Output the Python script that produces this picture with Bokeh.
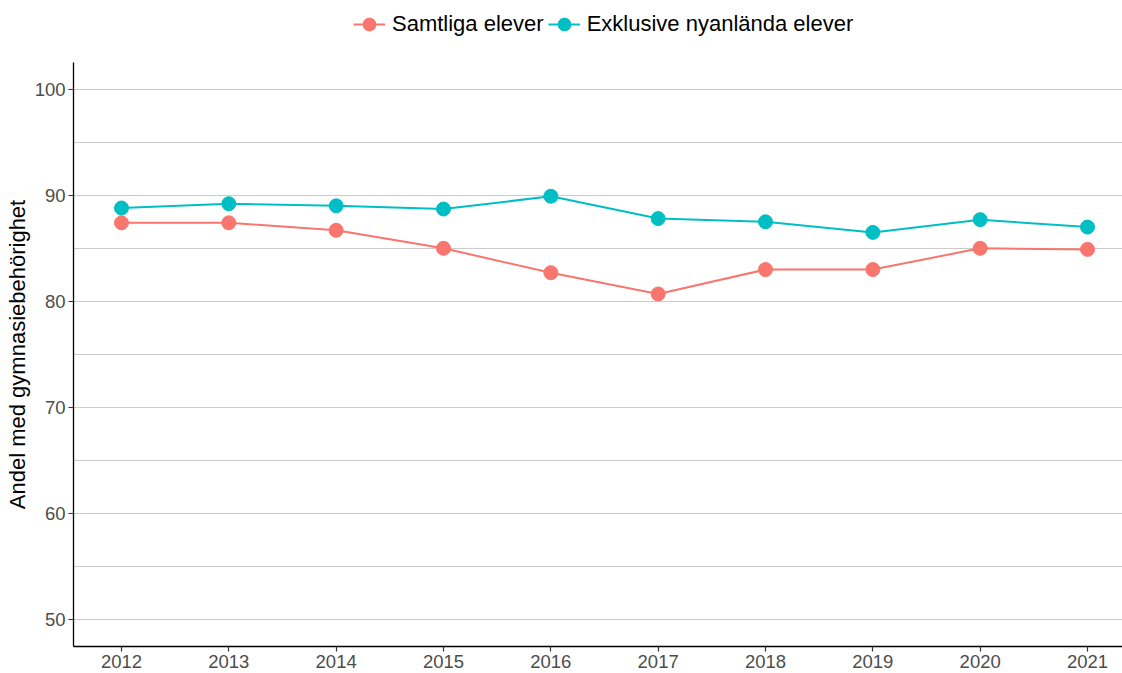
from bokeh.plotting import figure
from bokeh.layouts import column
from bokeh.models import ColumnDataSource, Legend, LegendItem, SingleIntervalTicker, FixedTicker, Range1d
from bokeh.embed import file_html
from bokeh.resources import INLINE

years = [2012, 2013, 2014, 2015, 2016, 2017, 2018, 2019, 2020, 2021]
samtliga = [87.4, 87.4, 86.7, 85.0, 82.7, 80.7, 83.0, 83.0, 85.0, 84.9]
exklusive = [88.8, 89.2, 89.0, 88.7, 89.9, 87.8, 87.5, 86.5, 87.7, 87.0]
series_names = ["Samtliga elever", "Exklusive nyanlända elever"]
series_colors = ["#F8766D", "#00BFC4"]
y_label = "Andel med gymnasiebehörighet"

FONT = "Liberation Sans"

# ---- legend strip (separate small figure above the chart; its data lies outside its view) ----
lg = figure(width=1122, height=62, output_backend="svg", toolbar_location=None,
            x_range=Range1d(0, 1), y_range=Range1d(0, 1),
            x_axis_type=None, y_axis_type=None,
            min_border_left=0, min_border_right=0, min_border_top=0, min_border_bottom=0)
lg.outline_line_color = None
lg.grid.visible = False
lg.background_fill_color = "white"
lg.border_fill_color = "white"

items = []
for name, vals, col in zip(series_names, [samtliga, exklusive], series_colors):
    src = ColumnDataSource(dict(x=years, y=vals))
    l = lg.line("x", "y", source=src, line_color=col, line_width=2)
    s = lg.scatter("x", "y", source=src, size=14, fill_color=col, line_color=col)
    items.append(LegendItem(label=name, renderers=[l, s], index=0))

legend = Legend(items=items, orientation="horizontal", location=(280, 22),
                glyph_width=32, glyph_height=32, label_standoff=7, spacing=4,
                padding=0, margin=0, border_line_color=None, background_fill_alpha=0,
                label_text_font=FONT, label_text_font_size="22px", label_text_color="black")
lg.add_layout(legend, "center")

# ---- main chart ----
p = figure(width=1122, height=611, output_backend="svg", toolbar_location=None,
           x_range=Range1d(2011.553, 2021.326), y_range=Range1d(47.5, 102.5),
           min_border_left=73, min_border_top=0, min_border_right=0, min_border_bottom=27)
p.outline_line_color = None
p.background_fill_color = "white"
p.border_fill_color = "white"

for name, vals, col in zip(series_names, [samtliga, exklusive], series_colors):
    src = ColumnDataSource(dict(x=years, y=vals))
    p.line("x", "y", source=src, line_color=col, line_width=2)
    p.scatter("x", "y", source=src, size=14, fill_color=col, line_color=col)

# grid
p.xgrid.grid_line_color = None
p.ygrid.grid_line_color = "#CCCCCC"
p.ygrid.grid_line_width = 1
p.ygrid.minor_grid_line_color = "#CCCCCC"
p.ygrid.minor_grid_line_width = 1

p.yaxis.ticker = SingleIntervalTicker(interval=10, num_minor_ticks=2)
p.ygrid.ticker = SingleIntervalTicker(interval=10, num_minor_ticks=2)
p.xaxis.ticker = FixedTicker(ticks=years)

for ax in [p.xaxis[0], p.yaxis[0]]:
    ax.axis_line_color = "black"
    ax.axis_line_width = 1.3
    ax.major_tick_line_color = "#333333"
    ax.major_tick_line_width = 1.2
    ax.major_tick_out = 5
    ax.major_tick_in = 0
    ax.minor_tick_line_color = None
    ax.major_label_text_font = FONT
    ax.major_label_text_font_size = "18.5px"
    ax.major_label_text_color = "#4D4D4D"
    ax.major_label_standoff = 3

p.yaxis.axis_label = y_label
p.yaxis.axis_label_text_font = FONT
p.yaxis.axis_label_text_font_size = "22px"
p.yaxis.axis_label_text_font_style = "normal"
p.yaxis.axis_label_text_color = "black"
p.yaxis.axis_label_standoff = 2

layout = column(lg, p, spacing=0)
open("out.html", "w").write(file_html(layout, INLINE))
